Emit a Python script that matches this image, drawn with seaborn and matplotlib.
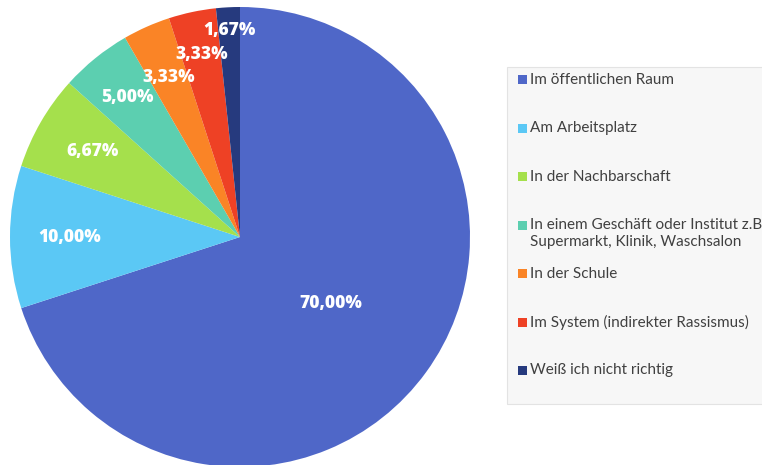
import numpy as np
import matplotlib
matplotlib.use("Agg")
import matplotlib.pyplot as plt
from matplotlib.patches import Rectangle
import seaborn as sns

categories = [
    "Im öffentlichen Raum",
    "Am Arbeitsplatz",
    "In der Nachbarschaft",
    "In einem Geschäft oder Institut z.B.\nSupermarkt, Klinik, Waschsalon",
    "In der Schule",
    "Im System (indirekter Rassismus)",
    "Weiß ich nicht richtig",
]
values = [70.00, 10.00, 6.67, 5.00, 3.33, 3.33, 1.67]
labels = ["70,00%", "10,00%", "6,67%", "5,00%", "3,33%", "3,33%", "1,67%"]
colors = ["#4F67C8", "#5BC8F5", "#A5E04C", "#5CCFB0", "#FA8426", "#EE4125", "#263A7E"]
label_radius = [0.49, 0.74, 0.74, 0.78, 0.76, 0.81, 0.90]

sns.set_style("white")
plt.rcParams["font.family"] = ["Lato", "DejaVu Sans"]

W, H = 762, 465
fig = plt.figure(figsize=(W / 100, H / 100), dpi=100)
cx, cy, R = 240, 237, 230
ax = fig.add_axes([(cx - R) / W, (H - cy - R) / H, 2 * R / W, 2 * R / H])
palette = sns.color_palette(colors)
wedges, _ = ax.pie(values, colors=palette, startangle=90, counterclock=False,
                   radius=1.0, wedgeprops=dict(linewidth=0))
ax.set_xlim(-1, 1)
ax.set_ylim(-1, 1)
ax.set_aspect("equal")
ax.axis("off")

total = sum(values)
cum = 0
for v, lab, r in zip(values, labels, label_radius):
    mid = 90 - (cum + v / 2) / total * 360
    cum += v
    ang = np.deg2rad(mid)
    ax.text(r * np.cos(ang), r * np.sin(ang), lab, color="white",
            fontsize=12.5, fontweight="heavy", ha="center", va="center",
            family=["Open Sans", "DejaVu Sans"])

# legend box
fig.patches.append(Rectangle((507 / W, (H - 404) / H), 300 / W, (404 - 67) / H,
                             transform=fig.transFigure, facecolor="#F7F7F7",
                             edgecolor="#E3E3E3", linewidth=0.8, zorder=0))
y0, dy = 80, 48.4
for i, (cat, col) in enumerate(zip(categories, colors)):
    y = y0 + i * dy
    fig.patches.append(Rectangle((518 / W, (H - y - 4.5) / H), 9 / W, 9 / H,
                                 transform=fig.transFigure, facecolor=col,
                                 edgecolor="none", zorder=2))
    fig.text(530 / W, (H - y + 7) / H, cat, fontsize=11, color="#404040",
             ha="left", va="top", linespacing=1.25)

fig.savefig("out.png", dpi=100)
